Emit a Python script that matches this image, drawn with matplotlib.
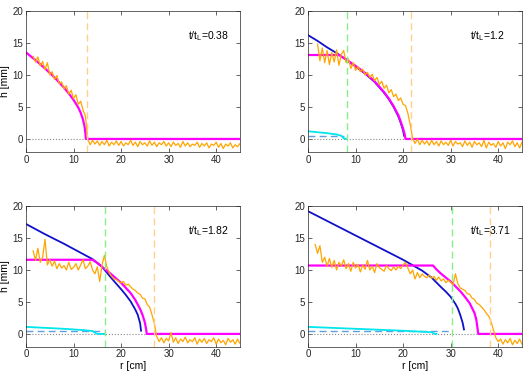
import numpy as np
import matplotlib
matplotlib.use("Agg")
import matplotlib.pyplot as plt

# time labels for the four panels
T_LABELS = ["0.38", "1.2", "1.82", "3.71"]

# measured profiles (orange), r grid starts at R0 with 0.5 cm step
MEAS_R0 = [1.5, 2.0, 1.5, 1.5]
MEAS_DR = 0.5
MEAS_H1 = [12.9, 12.0, 12.8, 11.4, 12.1, 10.8, 11.9, 10.0, 10.5, 9.3, 9.9, 8.6, 8.9, 7.8,
           8.3, 7.0, 7.6, 6.3, 6.9, 5.4, 5.9, 4.5, 3.6,
           -0.1, -0.9, -0.2, -0.8, -0.3, -1.0, -0.4, -0.9, -0.2, -1.1, -0.5, -0.9, -0.3, -1.0,
           -0.4, -1.1, -0.6, -0.9, -0.2, -1.0, -0.5, -1.2, -0.4, -0.9, -0.6, -1.1, -0.3, -1.0,
           -0.5, -1.2, -0.6, -0.9, -0.4, -1.1, -0.6, -1.2, -0.5, -1.0, -0.7, -1.3, -0.4, -1.1,
           -0.6, -1.2, -0.8, -1.0, -0.5, -1.3, -0.7, -1.1, -0.6, -1.4, -0.8, -1.0, -0.5, -1.3,
           -0.7, -1.5, -0.8, -1.1, -0.6, -1.4, -0.9, -1.2, -0.7, -1.6, -0.9]
MEAS_H2 = [14.8, 12.2, 14.2, 11.9, 13.8, 11.6, 13.5, 12.0, 13.9, 11.5, 13.2, 13.8, 11.9,
           12.5, 11.0, 11.9, 10.7, 11.3, 10.5, 10.9, 10.0, 10.4, 9.6,
           10.1, 9.1, 9.6, 8.5, 9.0, 7.9, 8.4, 7.2, 7.7, 6.6,
           7.0, 6.0, 6.4, 5.4, 5.2, 4.0, 2.2,
           0.1, -0.7, 0.0, -0.9, -0.2, -0.8, -0.3, -1.0, -0.2, -0.9, -0.4, -1.1, -0.3, -0.9,
           -0.5, -1.0, -0.2, -1.1, -0.4, -0.8, -0.6, -1.2, -0.3, -1.0, -0.5, -1.3, -0.4, -0.9,
           -0.6, -1.2, -0.2, -1.4, -0.5, -1.0, -0.7, -1.3, -0.4, -1.1, -0.6, -1.5, -0.5, -0.9,
           -0.3, -1.2, -0.6, -1.4, -0.5]
MEAS_H3 = [13.0, 11.5, 13.4, 11.2, 12.0, 14.8, 10.8, 11.6, 10.6, 11.4, 10.2, 11.0, 10.3,
           10.7, 10.0, 11.2, 10.1, 10.4, 11.0, 10.0, 10.8, 11.6, 10.2, 10.6, 11.3, 10.0, 9.4,
           10.5, 8.2, 10.8, 12.3, 10.5, 9.6, 9.0, 8.6, 8.5, 8.2, 8.0, 8.2, 7.6, 7.8, 7.4, 7.0,
           6.8, 6.4, 6.2, 5.6, 5.5, 4.6, 4.2, 3.0, 1.6,
           -0.4, -1.2, -0.6, -1.4, -0.7, -1.1, 0.2, -1.3, -0.6, -1.5, -0.8, -1.2, -0.5, -1.4,
           -0.9, -1.2, -0.6, -1.6, -0.8, -1.3, -0.7, -1.5, -0.9, -1.2, -0.6, -1.6, -0.8, -1.4,
           -1.0, -1.7, -0.7, -1.3, -0.9, -1.6, -0.8, -1.5, -1.0]
MEAS_H4 = [14.0, 12.6, 13.8, 11.2, 12.0, 10.6, 11.8, 10.4, 11.5, 10.0, 11.2, 10.6, 11.6,
           10.2, 11.0, 9.8, 11.2, 10.3, 10.9, 9.7, 10.8, 10.1, 11.5, 10.0, 10.6, 9.6, 11.0,
           10.4, 10.1, 9.8, 10.7, 10.2, 9.9, 10.5, 10.0, 10.6, 10.2, 10.8, 11.2, 10.3, 9.4,
           10.0, 8.6, 9.6, 8.8, 9.4, 9.0, 8.8, 9.2, 8.7, 9.0, 8.4, 8.9, 8.3, 8.6, 8.0, 8.4,
           8.1, 7.7, 9.4, 7.9, 7.2, 7.0, 6.8, 6.3, 6.2, 5.6, 5.4, 4.8, 4.6, 4.2, 3.8, 3.2,
           2.8, 1.9, 0.6, -0.6, -1.2, -0.8, -1.6, -0.9, -1.4, -0.7, -1.7, -1.0, -1.5, -0.8,
           -1.6, -1.1, -1.8, -0.9, -1.5]
MEAS_H = [MEAS_H1, MEAS_H2, MEAS_H3, MEAS_H4]

# model curves (blue), None where not shown
BLUE_R = [None,
          [0, 2, 4, 6, 8, 10, 12, 14, 16, 17, 18, 19, 19.5, 20.0, 20.2],
          [0, 4, 8, 12, 14, 16, 18, 20, 21, 22, 23, 23.5, 24.0, 24.2],
          [0, 5, 10, 15, 20, 24, 26, 28, 29, 30, 31, 31.5, 32, 32.5, 32.8]]
BLUE_H = [None,
          [16.2, 15.3, 14.3, 13.4, 12.4, 11.3, 10.2, 8.9, 7.2, 6.2, 5.0, 3.5, 2.5, 1.3, 0.5],
          [17.2, 15.6, 14.1, 12.5, 11.7, 10.5, 8.7, 7.0, 6.1, 5.1, 3.8, 3.0, 1.7, 0.5],
          [19.2, 17.3, 15.4, 13.5, 11.6, 9.9, 8.8, 7.3, 6.6, 5.8, 4.7, 4.0, 3.0, 1.8, 0.7]]

# model curves (magenta)
MAG_R = [[0, 2, 4, 6, 8, 9, 10, 11, 11.5, 12.0, 12.3, 12.5, 12.55, 12.6, 45],
         [0, 6.5, 8, 10, 12, 14, 16, 17, 18, 19, 19.5, 20.0, 20.3, 20.5, 45],
         [0, 14.0, 15, 16, 18, 20, 22, 23, 24, 24.5, 25.0, 25.3, 25.4, 45],
         [0, 26.3, 27, 28, 30, 32, 33, 34, 35, 35.4, 35.7, 35.8, 45]]
MAG_H = [[13.5, 12.3, 11.0, 9.6, 8.0, 7.1, 6.1, 4.9, 4.1, 3.0, 2.0, 0.9, 0.4, 0.0, 0.0],
         [13.1, 13.1, 12.4, 11.4, 10.3, 9.0, 7.3, 6.3, 5.1, 3.7, 2.7, 1.6, 0.8, 0.0, 0.0],
         [11.6, 11.6, 11.1, 10.5, 9.3, 8.0, 6.4, 5.3, 3.9, 3.0, 1.8, 0.6, 0.0, 0.0],
         [10.7, 10.7, 10.1, 9.4, 8.2, 6.7, 5.8, 4.8, 3.3, 2.2, 0.6, 0.0, 0.0]]

# lower layer (cyan) and its mean level (dashed light blue)
CYAN_R = [None,
          [0, 2, 4, 6, 7, 7.5, 8.0],
          [0, 4, 8, 12, 14, 14.5, 15.0, 16.5],
          [0, 5, 10, 15, 20, 25, 26, 26.7, 27]]
CYAN_H = [None,
          [1.2, 1.05, 0.9, 0.7, 0.5, 0.1, 0.0],
          [1.1, 0.95, 0.8, 0.6, 0.45, 0.2, 0.0, 0.0],
          [1.1, 0.95, 0.8, 0.65, 0.5, 0.3, 0.25, 0.0, 0.0]]
MEAN_LEVEL = 0.4
MEAN_END = [None, 7.5, 16.5, 30.2]

# fronts
GREEN_FRONT = [None, 8.2, 16.6, 30.2]
ORANGE_FRONT = [12.9, 21.7, 26.9, 38.2]

plt.rcParams['font.family'] = ['Liberation Sans', 'DejaVu Sans']

fig = plt.figure(figsize=(5.27, 3.72), dpi=100)
positions = [[0.0493, 0.592, 0.406, 0.379],
             [0.5845, 0.592, 0.406, 0.379],
             [0.0493, 0.068, 0.406, 0.378],
             [0.5845, 0.068, 0.406, 0.378]]

for i in range(4):
    ax = fig.add_axes(positions[i])
    ax.plot([0, 45], [0, 0], ls=':', color='#888888', lw=0.8)
    if CYAN_R[i] is not None:
        ax.plot([0, MEAN_END[i]], [MEAN_LEVEL, MEAN_LEVEL], ls='--', color='#5fa0e0', lw=1.0,
                dashes=(5, 3))
        ax.plot(CYAN_R[i], CYAN_H[i], color='#00e5ee', lw=1.3)
    if BLUE_R[i] is not None:
        ax.plot(BLUE_R[i], BLUE_H[i], color='#1010cc', lw=1.3)
    ax.plot(MAG_R[i], MAG_H[i], color='#ff00ff', lw=1.6)
    r = MEAS_R0[i] + MEAS_DR * np.arange(len(MEAS_H[i]))
    ax.plot(r, MEAS_H[i], color='#ffa500', lw=0.9)
    if GREEN_FRONT[i] is not None:
        ax.axvline(GREEN_FRONT[i], color='#88ee88', ls='--', lw=1.0, dashes=(5, 3))
    ax.axvline(ORANGE_FRONT[i], color='#ffd08a', ls='--', lw=1.0, dashes=(5, 3))

    ax.text(34, 15.6, r't/t$_{\mathregular{L}}$=' + T_LABELS[i], fontsize=7.5)

    ax.set_xlim(0, 45)
    ax.set_ylim(-2, 20)
    ax.set_xticks([0, 10, 20, 30, 40])
    ax.set_yticks([0, 5, 10, 15, 20])
    ax.tick_params(direction='in', top=True, right=True, labelsize=7, length=3,
                   width=0.5, colors='#262626', pad=2)
    for s in ax.spines.values():
        s.set_linewidth(0.5)
        s.set_color('#262626')
    if i in (0, 2):
        ax.set_ylabel('h [mm]', fontsize=7.5, labelpad=2)
    if i in (2, 3):
        ax.set_xlabel('r [cm]', fontsize=7.5, labelpad=1)

fig.savefig('out.png', dpi=100)
